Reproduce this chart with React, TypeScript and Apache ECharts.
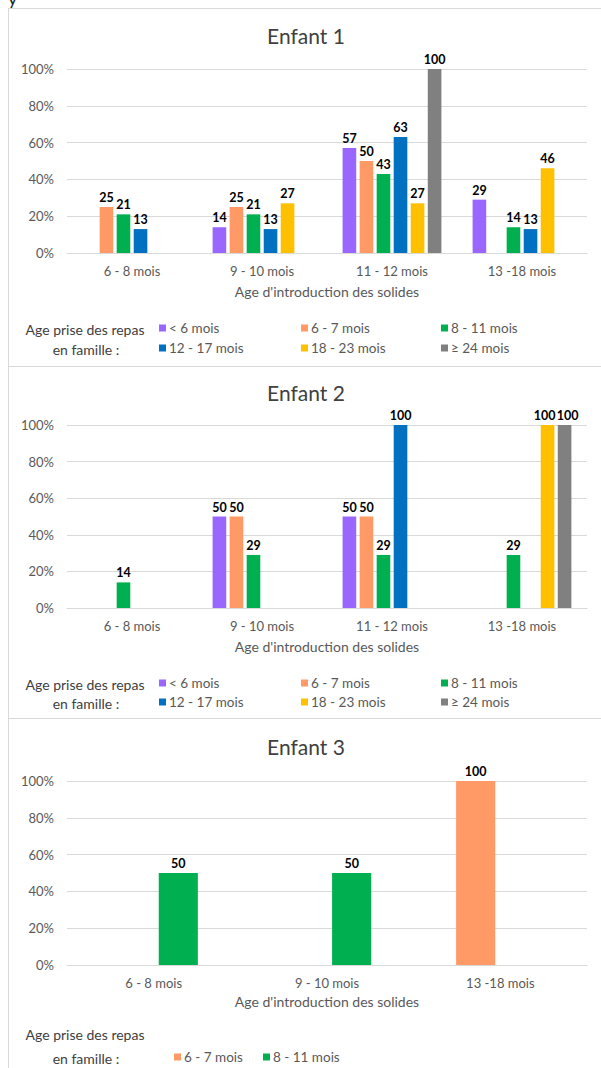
import React, { useEffect, useRef } from "react";
import * as echarts from "echarts";

const SERIES_NAMES = ["< 6 mois", "6 - 7 mois", "8 - 11 mois", "12 - 17 mois", "18 - 23 mois", "≥ 24 mois"];
const SERIES_COLORS = ["#9966FF", "#FF9966", "#00B050", "#0070C0", "#FFC000", "#808080"];

// Enfant 1
const CATS_1 = ["6 - 8 mois", "9 - 10 mois", "11 - 12 mois", "13 -18 mois"];
const E1_LT6 = [null, 14, 57, 29];
const E1_6_7 = [25, 25, 50, null];
const E1_8_11 = [21, 21, 43, 14];
const E1_12_17 = [13, 13, 63, 13];
const E1_18_23 = [null, 27, 27, 46];
const E1_GE24 = [null, null, 100, null];

// Enfant 2
const CATS_2 = ["6 - 8 mois", "9 - 10 mois", "11 - 12 mois", "13 -18 mois"];
const E2_LT6 = [null, 50, 50, null];
const E2_6_7 = [null, 50, 50, null];
const E2_8_11 = [14, 29, 29, 29];
const E2_12_17 = [null, null, 100, null];
const E2_18_23 = [null, null, null, 100];
const E2_GE24 = [null, null, null, 100];

// Enfant 3
const CATS_3 = ["6 - 8 mois", "9 - 10 mois", "13 -18 mois"];
const E3_6_7 = [null, null, 100];
const E3_8_11 = [50, 50, null];

const Y_TICKS = { min: 0, max: 100, interval: 20 };
const TITLES = ["Enfant 1", "Enfant 2", "Enfant 3"];
const X_NAME = "Age d'introduction des solides";
const LEGEND_LABEL_1 = "Age prise des repas";
const LEGEND_LABEL_2 = "en famille :";

const FONT = "Lato, 'Open Sans', sans-serif";
const GRID_COLOR = "#D9D9D9";
const AXIS_TEXT = "#595959";

export default function App() {
  const ref = useRef<HTMLDivElement>(null);
  useEffect(() => {
    if (!ref.current) return;
    const chart = echarts.init(ref.current, null, { renderer: "svg" });

    const panels = [
      { top: 69, height: 184, cats: CATS_1, data: [E1_LT6, E1_6_7, E1_8_11, E1_12_17, E1_18_23, E1_GE24], idx: [0, 1, 2, 3, 4, 5], gap: "25%", catGap: "24%", titleY: 35 },
      { top: 425, height: 183, cats: CATS_2, data: [E2_LT6, E2_6_7, E2_8_11, E2_12_17, E2_18_23, E2_GE24], idx: [0, 1, 2, 3, 4, 5], gap: "25%", catGap: "24%", titleY: 392 },
      { top: 781, height: 184, cats: CATS_3, data: [E3_6_7, E3_8_11], idx: [1, 2], gap: "26%", catGap: "49%", titleY: 746 },
    ];

    const grids = panels.map((p) => ({ left: 67, width: 520, top: p.top, height: p.height }));
    const xAxes = panels.map((p, i) => ({
      type: "category",
      gridIndex: i,
      data: p.cats,
      axisTick: { show: false },
      axisLine: { lineStyle: { color: GRID_COLOR, width: 1 } },
      axisLabel: { color: AXIS_TEXT, fontFamily: FONT, fontSize: 13, margin: 11 },
      name: X_NAME,
      nameLocation: "middle",
      nameGap: i === 2 ? 29 : 31,
      nameTextStyle: { color: AXIS_TEXT, fontFamily: FONT, fontSize: 14, verticalAlign: "top" },
    }));
    const yAxes = panels.map((p, i) => ({
      type: "value",
      gridIndex: i,
      min: Y_TICKS.min,
      max: Y_TICKS.max,
      interval: Y_TICKS.interval,
      axisLine: { show: false },
      axisTick: { show: false },
      splitLine: { lineStyle: { color: GRID_COLOR, width: 1 } },
      axisLabel: { color: AXIS_TEXT, fontFamily: FONT, fontSize: 13, margin: 13, formatter: "{value}%" },
    }));

    const series: any[] = [];
    panels.forEach((p, pi) => {
      p.data.forEach((d, k) => {
        const si = p.idx[k];
        // spread the labels of adjacent full-height bars in Enfant 2 so they don't collide
        let dx = 0;
        if (pi === 1 && si === 4) dx = -3;
        if (pi === 1 && si === 5) dx = 3;
        series.push({
          type: "bar",
          name: SERIES_NAMES[si],
          xAxisIndex: pi,
          yAxisIndex: pi,
          data: d,
          barGap: p.gap,
          barCategoryGap: p.catGap,
          itemStyle: { color: SERIES_COLORS[si] },
          label: {
            show: true,
            position: "top",
            distance: 3,
            offset: [dx, 0],
            color: "#000",
            fontFamily: FONT,
            fontWeight: "bold",
            fontSize: 12.5,
          },
        });
      });
    });

    const legendCols = [159, 301, 441];
    const legends: any[] = [];
    const mkLegend = (name: string, left: number, cy: number) => ({
      data: [name],
      left,
      top: cy - 8,
      padding: 0,
      icon: "rect",
      itemWidth: 7,
      itemHeight: 7,
      selectedMode: false,
      textStyle: { color: AXIS_TEXT, fontFamily: FONT, fontSize: 13.5, padding: [0, 0, 0, -2] },
    });
    [[329, 349], [684, 703]].forEach(([r1, r2]) => {
      SERIES_NAMES.forEach((n, i) => {
        legends.push(mkLegend(n, legendCols[i % 3], i < 3 ? r1 : r2));
      });
    });
    legends.push(mkLegend(SERIES_NAMES[1], 174, 1058));
    legends.push(mkLegend(SERIES_NAMES[2], 263, 1058));

    const legendLabelRows = [[329, 349], [684, 703], [1034, 1058]];
    const graphics: any[] = [
      { type: "line", shape: { x1: 8.5, y1: 8, x2: 8.5, y2: 1068 }, style: { stroke: GRID_COLOR, lineWidth: 1 } },
      { type: "line", shape: { x1: 8, y1: 8.5, x2: 601, y2: 8.5 }, style: { stroke: GRID_COLOR, lineWidth: 1 } },
      { type: "line", shape: { x1: 8, y1: 366.5, x2: 601, y2: 366.5 }, style: { stroke: GRID_COLOR, lineWidth: 1 } },
      { type: "line", shape: { x1: 8, y1: 718.5, x2: 601, y2: 718.5 }, style: { stroke: GRID_COLOR, lineWidth: 1 } },
      { type: "text", x: 8, y: 7, style: { text: "y", fill: "#222", font: `18px ${FONT}`, verticalAlign: "bottom" } },
    ];
    panels.forEach((p, i) => {
      graphics.push({
        type: "text",
        x: 306,
        y: p.titleY,
        style: { text: TITLES[i], fill: "#404040", font: `21px ${FONT}`, textAlign: "center", textVerticalAlign: "middle" },
      });
      const [r1, r2] = legendLabelRows[i];
      graphics.push({
        type: "text",
        x: 85,
        y: r1,
        style: { text: LEGEND_LABEL_1, fill: "#404040", font: `14px ${FONT}`, textAlign: "center", textVerticalAlign: "middle" },
      });
      graphics.push({
        type: "text",
        x: 86,
        y: r2,
        style: { text: LEGEND_LABEL_2, fill: "#404040", font: `14px ${FONT}`, textAlign: "center", textVerticalAlign: "middle" },
      });
    });

    chart.setOption({
      animation: false,
      backgroundColor: "#fff",
      grid: grids,
      xAxis: xAxes,
      yAxis: yAxes,
      legend: legends,
      series,
      graphic: graphics,
    });
    return () => chart.dispose();
  }, []);

  return <div ref={ref} style={{ position: "absolute", left: 0, top: 0, width: 601, height: 1068 }} />;
}
